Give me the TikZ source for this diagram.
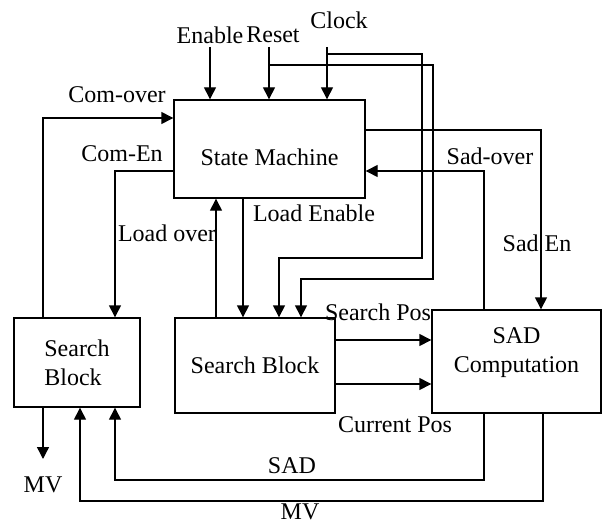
\documentclass[tikz,border=0pt]{standalone}
\usepackage{fontspec}
\setmainfont{Liberation Serif}
\usepackage{tikz}
\usetikzlibrary{positioning}
\usetikzlibrary{arrows.meta}

\begin{document}
\begin{tikzpicture}[x=1pt,y=-1pt,font=\fontsize{24}{29}\selectfont]
        \tikzstyle{block}=[draw,rectangle,line width=1.4pt,inner sep=0pt]
        \tikzstyle{wire}=[line width=1.4pt]
        \tikzstyle{arr}=[wire,-{Triangle[length=12pt,width=12pt]}]
            \useasboundingbox (0,0) rectangle (602,524);

            % blocks
            \node[block,minimum width=191pt,minimum height=98pt,text height=34pt]
                (sm) at (269.5,149) {State Machine};
            \node[block,minimum width=126pt,minimum height=89pt,align=left]
                (sbl) at (77,362.5) {Search\\Block};
            \node[block,minimum width=160pt,minimum height=95pt]
                (sbm) at (255,365.5) {Search Block};
            \node[block,minimum width=169pt,minimum height=103pt,align=center,text depth=22pt]
                (sad) at (516.5,361.5) {SAD\\Computation};

            % signal labels
            \node (enable) at (210,35) {Enable};
            \node (reset) at (273,35) {Reset};
            \node (clock) at (339,20) {Clock};
            \node (comover) at (117,95) {Com-over};
            \node (comen) at (122,154) {Com-En};
            \node (loadover) at (167,233) {Load over};
            \node (loaden) at (314,213) {Load Enable};
            \node (sadover) at (490,156) {Sad-over};
            \node (saden) at (537,243) {Sad En};
            \node (searchpos) at (378,312) {Search Pos};
            \node (currpos) at (395,425) {Current Pos};
            \node (sadval) at (292,466) {SAD};
            \node (mvbot) at (300,512) {MV};
            \node (mvout) at (43,485) {MV};

            % wire ends and corners
            \coordinate (en) at (210,47);
            \coordinate (rs) at (269,47);
            \coordinate (ck) at (327,47);
            \coordinate (lo) at (216,0);
            \coordinate (le) at (243,0);
            \coordinate (cov) at (43,118);
            \coordinate (cen) at (115,171);
            \coordinate (sov) at (484,171);
            \coordinate (sen) at (541,130);
            \coordinate (sp) at (0,340);
            \coordinate (cp) at (0,384);
            \coordinate (sd) at (484,480);
            \coordinate (mvb) at (543,501);
            \coordinate (mvx) at (80,0);
            \coordinate (mvo) at (43,459);

            % inputs of the state machine
            \draw[arr] (en) -- (en |- sm.north);
            \draw[arr] (rs) -- (rs |- sm.north);
            \draw[arr] (ck) -- (ck |- sm.north);
            \draw[arr] (ck) ++(0,7) -| (422,258) -| ([xshift=24pt]sbm.north);
            \draw[arr] (rs) ++(0,18) -| (433,279) -| ([xshift=46pt]sbm.north);

            % state machine and blocks
            \draw[arr] (sbl.north -| cov) |- (sm.west |- cov);
            \draw[arr] (sm.west |- cen) -| (sbl.north -| cen);
            \draw[arr] (sbm.north -| lo) -- (sm.south -| lo);
            \draw[arr] (sm.south -| le) -- (sbm.north -| le);
            \draw[arr] (sad.north -| sov) |- (sm.east |- sov);
            \draw[arr] (sm.east |- sen) -| (sad.north -| sen);

            % data paths
            \draw[arr] (sbm.east |- sp) -- (sad.west |- sp);
            \draw[arr] (sbm.east |- cp) -- (sad.west |- cp);
            \draw[arr] (sad.south -| sd) -- (sd) -| (sbl.south -| cen);
            \draw[arr] (sad.south -| mvb) -- (mvb) -| (sbl.south -| mvx);
            \draw[arr] (sbl.south -| mvo) -- (mvo);
        \end{tikzpicture}
\end{document}
